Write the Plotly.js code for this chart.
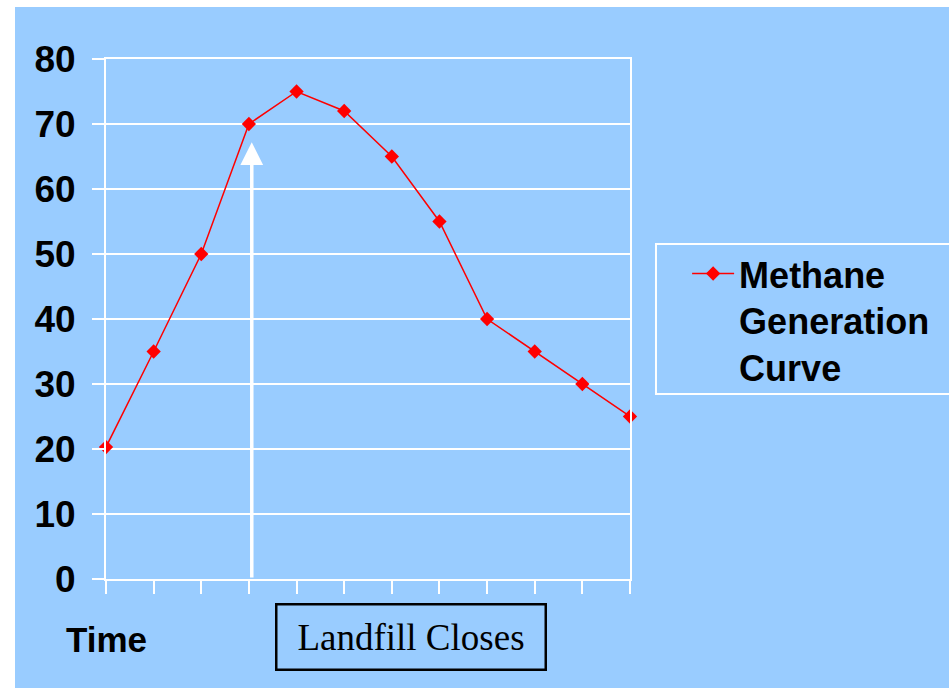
<!DOCTYPE html>
<html>
<head>
<meta charset="utf-8">
<script src="https://cdn.plot.ly/plotly-3.0.1.min.js"></script>
<style>
html, body { margin: 0; padding: 0; background: #ffffff; width: 949px; height: 688px; overflow: hidden; }
#chart { position: absolute; left: 15px; top: 7px; width: 934px; height: 681px; }
</style>
</head>
<body>
<div id="chart"></div>
<script>
// Data
const periods = [1, 2, 3, 4, 5, 6, 7, 8, 9, 10, 11, 12];
const methane = [20.3, 35, 50, 70, 75, 72, 65, 55, 40, 35, 30, 25];
const seriesName = 'Methane<br>Generation<br>Curve';
const yTicks = [0, 10, 20, 30, 40, 50, 60, 70, 80];
const closePeriod = 4.06;
const arrowTipValue = 67.2;

const bg = '#99CCFF';

const trace = {
  x: periods,
  y: methane,
  type: 'scatter',
  mode: 'lines+markers',
  name: seriesName,
  line: { color: '#FF0000', width: 1.5 },
  marker: { symbol: 'diamond', size: 11, color: '#FF0000' },
  cliponaxis: false
};

const layout = {
  width: 934,
  height: 681,
  paper_bgcolor: bg,
  plot_bgcolor: bg,
  margin: { l: 91, r: 319, t: 52, b: 109, pad: 0 },
  showlegend: true,
  legend: {
    x: 1.109, y: 0.645, xanchor: 'left', yanchor: 'top',
    bgcolor: 'rgba(0,0,0,0)', borderwidth: 0,
    valign: 'top', itemwidth: 42,
    font: { family: 'Liberation Sans, Arial, sans-serif', size: 36, color: '#000000', weight: 'bold' }
  },
  xaxis: {
    range: [1, 12],
    showgrid: false,
    zeroline: false,
    showline: true, linecolor: '#ffffff', linewidth: 2, mirror: true,
    ticks: 'outside', ticklen: 13, tickwidth: 2, tickcolor: '#ffffff',
    tickvals: periods,
    showticklabels: false,
    fixedrange: true
  },
  yaxis: {
    range: [0, 80],
    tickvals: yTicks,
    showgrid: true, gridcolor: '#ffffff', gridwidth: 2,
    zeroline: false,
    showline: true, linecolor: '#ffffff', linewidth: 2, mirror: true,
    ticks: 'outside', ticklen: 12, tickwidth: 2, tickcolor: '#ffffff',
    ticklabelstandoff: 9,
    tickfont: { family: 'Liberation Sans, Arial, sans-serif', size: 37, color: '#000000', weight: 'bold' },
    fixedrange: true
  },
  shapes: [
    {
      type: 'rect', xref: 'paper', yref: 'paper',
      x0: 1.0496, x1: 1.8, y0: 0.3558, y1: 0.6442,
      line: { color: '#ffffff', width: 2 }, fillcolor: 'rgba(0,0,0,0)'
    }
  ],
  annotations: [
    {
      x: closePeriod, y: arrowTipValue, xref: 'x', yref: 'y',
      ax: closePeriod, ay: 0, axref: 'x', ayref: 'y',
      text: '', showarrow: true,
      arrowhead: 2, arrowsize: 1.3, arrowwidth: 3.5, arrowcolor: '#ffffff'
    },
    {
      x: 0.0019, y: -0.117, xref: 'paper', yref: 'paper',
      xanchor: 'center', yanchor: 'middle',
      text: 'Time', showarrow: false,
      font: { family: 'Liberation Sans, Arial, sans-serif', size: 35, color: '#000000', weight: 'bold' }
    },
    {
      x: 0.583, y: -0.1106, xref: 'paper', yref: 'paper',
      xanchor: 'center', yanchor: 'middle',
      text: 'Landfill Closes', showarrow: false,
      width: 267, height: 63, borderpad: 0,
      bordercolor: '#000000', borderwidth: 2.5,
      font: { family: 'Liberation Serif, Times New Roman, serif', size: 37, color: '#000000' }
    }
  ]
};

Plotly.newPlot('chart', [trace], layout, { displayModeBar: false, staticPlot: true });
</script>
</body>
</html>
